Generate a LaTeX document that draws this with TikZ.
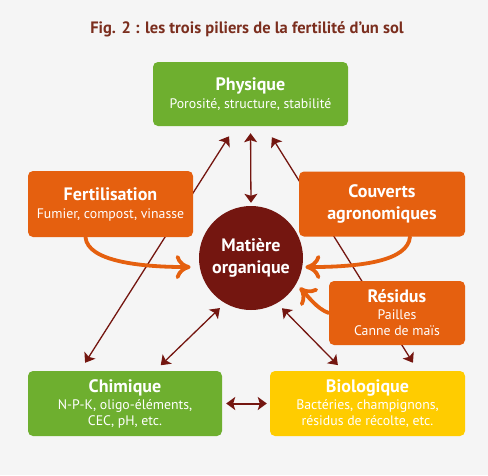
\documentclass[tikz,border=0pt]{standalone}
\usepackage{fontspec}
\setmainfont{PT Sans}
\usetikzlibrary{arrows.meta}

\definecolor{fond}{HTML}{F5F5F5}
\definecolor{vertsol}{HTML}{6EAF2F}
\definecolor{orangesol}{HTML}{E5600F}
\definecolor{jaunesol}{HTML}{FFCC00}
\definecolor{bordeaux}{HTML}{741610}
\definecolor{brunsol}{HTML}{7B2E1E}

\newcommand{\nom}[1]{{\fontsize{18}{20}\selectfont\bfseries #1}}

\tikzset{
  pilier/.style={rounded corners=5pt, text=white, align=center, inner sep=0pt,
    font=\fontsize{13.8}{16}\selectfont},
  apport/.style={pilier, fill=orangesol},
  fleche/.style={bordeaux, line width=1.3pt,
    {Stealth[length=9pt,width=13pt,inset=2pt]}-{Stealth[length=9pt,width=13pt,inset=2pt]}},
  courbe/.style={orangesol, line width=3.8pt, line cap=round,
    -{Computer Modern Rightarrow[length=15pt,width=24pt,line cap=round]}}
}

\begin{document}
\begin{tikzpicture}[x=1pt,y=1pt]
  \fill[fond] (0,0) rectangle (488,-475);
  \useasboundingbox (0,0) rectangle (488,-475);

  % Titre
  \node[brunsol, font=\fontsize{16.5}{18}\selectfont\bfseries] (titre) at (247,-29)
    {Fig. 2 : les trois piliers de la fertilité d’un sol};

  % Les trois piliers
  \node[pilier, fill=vertsol, minimum width=195pt, minimum height=64pt] (physique) at (250.5,-94)
    {\nom{Physique}\\[2pt] Porosité, structure, stabilité};
  \node[pilier, fill=vertsol, minimum width=194pt, minimum height=65pt] (chimique) at (125,-403.5)
    {\nom{Chimique}\\[1pt] N-P-K, oligo-éléments,\\ CEC, pH, etc.};
  \node[pilier, fill=jaunesol, minimum width=195pt, minimum height=65pt] (biologique) at (367.5,-403.5)
    {\nom{Biologique}\\[1pt] Bactéries, champignons,\\ résidus de récolte, etc.};

  % Matiere organique
  \node[pilier, circle, fill=bordeaux, minimum size=104pt] (mo) at (251,-258)
    {\nom{Matière}\\[6pt] \nom{organique}};

  % Liaisons
  \draw[fleche, shorten <=7pt, shorten >=3pt] (physique.south) -- (mo.north);
  \draw[fleche, shorten <=12pt, shorten >=9.5pt] ([xshift=-15pt]physique.south) -- ([xshift=-45pt]chimique.north);
  \draw[fleche, shorten <=13pt, shorten >=9.5pt] ([xshift=14.5pt]physique.south) -- ([xshift=50.5pt]biologique.north);
  \draw[fleche, shorten <=7pt, shorten >=8pt] (mo.240) -- ([xshift=30pt]chimique.north);
  \draw[fleche, shorten <=7pt, shorten >=8pt] (mo.300) -- ([xshift=-24pt]biologique.north);
  \draw[fleche, line width=2pt, shorten <=4pt, shorten >=3pt] (chimique.east) -- (biologique.west);

  % Apports
  \node[apport, minimum width=165pt, minimum height=66pt] (fertil) at (110.5,-204)
    {\nom{Fertilisation}\\[2pt] Fumier, compost, vinasse};
  \node[apport, minimum width=166pt, minimum height=65pt] (couverts) at (382,-204)
    {\nom{Couverts}\\[6pt] \nom{agronomiques}};
  \node[apport, minimum width=136pt, minimum height=64pt] (residus) at (397,-313)
    {\nom{Résidus}\\[1pt] Pailles\\ Canne de maïs};

  \draw[courbe, shorten >=9pt] ([xshift=-25pt]fertil.south) .. controls +(2,-24) and +(-60,0) .. (mo.190);
  \draw[courbe, shorten >=3pt] ([xshift=28pt]couverts.south) .. controls +(-2,-24) and +(60,0) .. (mo.350);
  \draw[courbe, shorten >=5pt] (residus.west) .. controls +(-12,4) and +(10,-10) .. (mo.330);
\end{tikzpicture}
\end{document}
